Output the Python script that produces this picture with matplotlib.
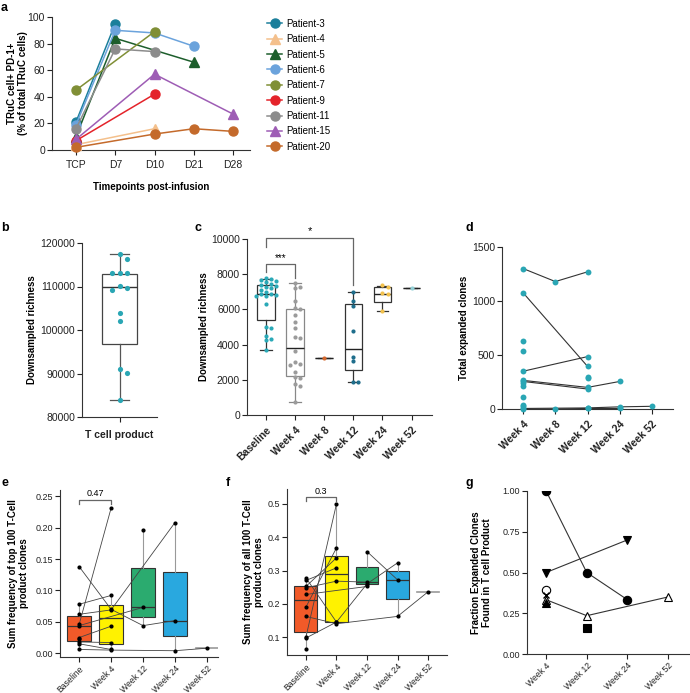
import matplotlib
matplotlib.use("Agg")
import matplotlib.pyplot as plt
import numpy as np

plt.rcParams['font.family'] = ['Liberation Sans', 'DejaVu Sans']
plt.rcParams['font.size'] = 7
plt.rcParams['axes.linewidth'] = 0.8
plt.rcParams['axes.edgecolor'] = '#333333'

# ---------------- Data ----------------
# Panel a
a_times = ["TCP", "D7", "D10", "D21", "D28"]
a_patients = ["Patient-3", "Patient-4", "Patient-5", "Patient-6", "Patient-7",
              "Patient-9", "Patient-11", "Patient-15", "Patient-20"]
a_values = {
    "Patient-3":  [21, 95, None, None, None],
    "Patient-4":  [4, None, 16, None, None],
    "Patient-5":  [10, 84, None, 66, None],
    "Patient-6":  [19, 90, 88, 78, None],
    "Patient-7":  [45, None, 89, None, None],
    "Patient-9":  [7, None, 42, None, None],
    "Patient-11": [16, 76, 74, None, None],
    "Patient-15": [8, None, 57, None, 27],
    "Patient-20": [2, None, 12, 16, 14],
}
a_colors = ["#1b7f9b", "#f4c08c", "#1d5e2c", "#6ba3dc", "#808f36",
            "#e4232a", "#8c8c8c", "#9e5db5", "#c46a2b"]
a_markers = ["o", "^", "^", "o", "o", "o", "o", "^", "o"]

# Panel b
b_points = [117400, 116300, 113000, 113000, 113000, 110100, 109700, 109300,
            104000, 102000, 91000, 90200, 84000]
b_box = dict(whislo=84000, q1=96700, med=109800, q3=112900, whishi=117400)

# Panel c
c_groups = ["Baseline", "Week 4", "Week 8", "Week 12", "Week 24", "Week 52"]
c_baseline = [7800, 7720, 7650, 7600, 7550, 7450, 7400, 7350, 7300, 7200, 7100,
              7000, 6900, 6850, 6800, 6780, 6750, 6300, 5000, 4950, 4500,
              4300, 4250, 3700]
c_week4 = [7500, 7300, 7200, 6500, 6100, 6000, 5700, 5300, 4950, 4450, 4350,
           3650, 3000, 2900, 2850, 2450, 2150, 2100, 1750, 1650, 750]
c_week8 = [3250]
c_week12 = [7000, 6500, 6200, 4800, 3300, 3050, 1900, 1900]
c_week24 = [7400, 7250, 6950, 6850, 5900]
c_week52 = [7200]
c_box_q1 = [5380, 2200, 3250, 2550, 6400, 7200]
c_box_med = [6850, 3800, 3250, 3750, 6900, 7200]
c_box_q3 = [7380, 6050, 3250, 6300, 7250, 7200]
c_box_lo = [3700, 750, 3250, 1900, 5900, 7200]
c_box_hi = [7750, 7500, 3250, 7000, 7350, 7200]
c_colors = ["#2aa9b7", "#9b9b9b", "#d5682e", "#1f6e8c", "#f2c14e", "#93d0d6"]

# Panel d
d_groups = ["Week 4", "Week 8", "Week 12", "Week 24", "Week 52"]
d_lines = [
    [1300, 1180, 1270, None, None],
    [1075, None, 395, None, None],
    [350, None, 485, None, None],
    [265, None, 200, 255, None],
    [255, None, 185, None, None],
    [5, None, 10, 20, 25],
    [0, 0, 5, 5, None],
]
d_single = [
    [630, 535, 240, 215, 115, 40, 30],
    [],
    [300, 285],
    [],
    [],
]

# Panel e
e_groups = ["Baseline", "Week 4", "Week 12", "Week 24", "Week 52"]
e_q1 = [0.020, 0.014, 0.058, 0.028, 0.008]
e_med = [0.043, 0.056, 0.073, 0.052, 0.008]
e_q3 = [0.059, 0.077, 0.135, 0.130, 0.008]
e_lo = [0.006, 0.005, 0.044, 0.004, 0.008]
e_hi = [0.078, 0.092, 0.196, 0.208, 0.008]
e_lines = [
    [0.138, 0.070, 0.044, 0.052, None],
    [0.046, 0.231, None, None, None],
    [0.062, 0.069, None, 0.208, None],
    [0.078, 0.092, None, None, None],
    [0.025, 0.043, None, None, None],
    [0.018, 0.017, None, None, None],
    [0.006, 0.005, None, 0.004, 0.008],
    [0.044, None, 0.073, None, None],
    [0.022, None, None, None, None],
    [0.015, 0.006, None, None, None],
    [None, None, 0.196, None, None],
]
e_colors = ["#f15a29", "#fff200", "#2bab6f", "#29a8df", "#aaaaaa"]

# Panel f
f_q1 = [0.115, 0.145, 0.258, 0.215, 0.236]
f_med = [0.210, 0.290, 0.265, 0.270, 0.236]
f_q3 = [0.253, 0.345, 0.310, 0.298, 0.236]
f_lo = [0.065, 0.140, 0.252, 0.162, 0.236]
f_hi = [0.278, 0.500, 0.357, 0.323, 0.236]
f_lines = [
    [0.100, 0.500, None, None, None],
    [0.270, 0.308, None, None, None],
    [0.252, 0.338, None, None, None],
    [0.248, 0.268, 0.265, None, None],
    [0.278, 0.145, None, None, None],
    [0.228, None, 0.252, None, None],
    [0.162, 0.140, None, 0.162, 0.236],
    [0.097, 0.145, 0.260, 0.323, None],
    [0.190, 0.368, None, None, None],
    [0.065, None, None, None, None],
    [None, None, 0.357, 0.272, None],
]

# Panel g
g_groups = ["Week 4", "Week 12", "Week 24", "Week 52"]
g_series = [
    ([1.00, 0.50, 0.333, None], "o", "black"),
    ([0.50, None, 0.70, None], "v", "black"),
    ([0.39, None, None, None], "o", "white"),
    ([0.333, 0.235, None, 0.35], "^", "white"),
    ([0.36, None, None, None], "x", "black"),
    ([0.31, None, None, None], "^", "black"),
    ([None, 0.16, None, None], "s", "black"),
]

# ---------------- Helpers ----------------
W, H = 690, 693
fig = plt.figure(figsize=(6.9, 6.93), dpi=100)


def add_ax(x0, y0, x1, y1, ls=7.5):
    ax = fig.add_axes([x0 / W, 1 - y1 / H, (x1 - x0) / W, (y1 - y0) / H])
    ax.spines['top'].set_visible(False)
    ax.spines['right'].set_visible(False)
    ax.tick_params(length=3.5, width=0.8, labelsize=ls, colors='#222222')
    ax.tick_params(axis='y', pad=1.5)
    ax._px = (x0, x1)
    return ax, (x1 - x0), (y1 - y0)


def ylabel_at(ax, text, right_px, fs=7):
    ax.set_ylabel(text, fontweight='bold', fontsize=fs, linespacing=1.1)
    x0, x1 = ax._px
    ax.yaxis.set_label_coords((right_px - x0) / (x1 - x0), 0.5)


def swarm(vals, wpx, hpx, xlim, ylim, d):
    ppx = wpx / (xlim[1] - xlim[0])
    ppy = hpx / (ylim[1] - ylim[0])
    placed, offs = [], []
    for v in vals:
        y = v * ppy
        cands = [0]
        for k in range(1, 12):
            cands += [k * d * 0.55, -k * d * 0.55]
        for x in cands:
            if all((x - px) ** 2 + (y - py) ** 2 >= (d * 0.95) ** 2 for px, py in placed):
                break
        placed.append((x, y))
        offs.append(x / ppx)
    return offs


def series_xy(vals):
    xs = [i for i, v in enumerate(vals) if v is not None]
    ys = [v for v in vals if v is not None]
    return xs, ys


def panel_label(x, y, s):
    fig.text(x / W, 1 - y / H, s, fontsize=9, fontweight='bold', va='top', ha='left')


# ---------------- Panel a ----------------
ax, wpx, hpx = add_ax(52, 17, 250, 150)
for p, c, m in zip(a_patients, a_colors, a_markers):
    xs, ys = series_xy(a_values[p])
    ax.plot(xs, ys, color=c, marker=m, ms=6.5 if m == 'o' else 7, lw=1.1,
            label=p, clip_on=False, zorder=3)
ax.set_xlim(-0.61, 4.43)
ax.set_ylim(0, 100)
ax.set_yticks([0, 20, 40, 60, 80, 100])
ax.set_xticks(range(len(a_times)))
ax.set_xticklabels(a_times)
ax.set_xlabel("Timepoints post-infusion", fontweight='bold', fontsize=7, labelpad=9)
ylabel_at(ax, "TRuC cell+ PD-1+\n(% of total TRuC cells)", 28, fs=7)
leg = ax.legend(loc='upper left', bbox_to_anchor=(262 / W, 1 - 14 / H),
                bbox_transform=fig.transFigure, frameon=False, fontsize=7,
                handlelength=1.6, labelspacing=0.55, handletextpad=0.4, borderpad=0)
panel_label(1, 2, "a")

# ---------------- Panel b ----------------
ax, wpx, hpx = add_ax(82, 243, 157, 417)
xl, yl = (-1, 1), (80000, 120000)
st = dict(b_box)
ax.bxp([st], positions=[0], widths=0.93, showfliers=False, patch_artist=True,
       boxprops=dict(facecolor='white', edgecolor='#444444', lw=0.9),
       medianprops=dict(color='#333333', lw=1.0),
       whiskerprops=dict(color='#555555', lw=0.9),
       capprops=dict(color='#555555', lw=0.9), capwidths=0.5)
offs = swarm(b_points, wpx, hpx, xl, yl, 7)
ax.scatter(offs, b_points, s=14, color="#2aa6b4", zorder=3, linewidths=0)
ax.set_xlim(*xl)
ax.set_ylim(*yl)
ax.set_yticks([80000, 90000, 100000, 110000, 120000])
ax.set_xticks([0])
ax.set_xticklabels(["T cell product"], fontweight='bold')
ax.tick_params(axis='x', pad=6)
ylabel_at(ax, "Downsampled richness", 37)
panel_label(1, 222, "b")

# ---------------- Panel c ----------------
ax, wpx, hpx = add_ax(247, 239, 432, 415)
xl, yl = (-0.65, 5.7), (0, 10000)
stats = []
for i in range(len(c_groups)):
    stats.append(dict(whislo=c_box_lo[i], q1=c_box_q1[i], med=c_box_med[i],
                      q3=c_box_q3[i], whishi=c_box_hi[i]))
edgecols = ['#333333', '#888888', '#888888', '#333333', '#333333', '#888888']
for i, s in enumerate(stats):
    ax.bxp([s], positions=[i], widths=0.6, showfliers=False, patch_artist=True,
           boxprops=dict(facecolor='none', edgecolor=edgecols[i], lw=0.9),
           medianprops=dict(color='#222222', lw=1.0),
           whiskerprops=dict(color=edgecols[i], lw=0.9),
           capprops=dict(color=edgecols[i], lw=0.9), capwidths=0.4)
c_all = [c_baseline, c_week4, c_week8, c_week12, c_week24, c_week52]
for i, (vals, col) in enumerate(zip(c_all, c_colors)):
    offs = swarm(vals, wpx, hpx, xl, yl, 4.6)
    ax.scatter(np.array(offs) + i, vals, s=9, color=col, zorder=3, linewidths=0)
ax.set_xlim(*xl)
ax.set_ylim(*yl)
ax.set_yticks([0, 2000, 4000, 6000, 8000, 10000])
ax.set_xticks(range(len(c_groups)))
ax.set_xticklabels(c_groups, rotation=45, ha='right', rotation_mode='anchor',
                   fontweight='bold')
ylabel_at(ax, "Downsampled richness", 209)
# significance brackets
ax.plot([0, 0, 1, 1], [8150, 8600, 8600, 7800], color='#666666', lw=0.9, clip_on=False)
ax.text(0.5, 8650, "***", ha='center', va='bottom', fontsize=7)
ax.plot([0, 0, 3, 3], [9550, 10050, 10050, 7400], color='#666666', lw=0.9, clip_on=False)
ax.text(1.5, 10150, "*", ha='center', va='bottom', fontsize=8, clip_on=False)
panel_label(195, 222, "c")

# ---------------- Panel d ----------------
ax, wpx, hpx = add_ax(502, 247, 673, 409)
for ln in d_lines:
    xs, ys = series_xy(ln)
    ax.plot(xs, ys, color='#333333', lw=0.8, zorder=2, clip_on=False)
    ax.scatter(xs, ys, s=18, color="#2aa6b4", zorder=3, linewidths=0, clip_on=False)
for i, vals in enumerate(d_single):
    if vals:
        ax.scatter([i] * len(vals), vals, s=18, color="#2aa6b4", zorder=3,
                   linewidths=0, clip_on=False)
ax.set_xlim(-0.66, 4.66)
ax.set_ylim(0, 1500)
ax.set_yticks([0, 500, 1000, 1500])
ax.set_xticks(range(len(d_groups)))
ax.set_xticklabels(d_groups, rotation=45, ha='right', rotation_mode='anchor',
                   fontweight='bold')
ylabel_at(ax, "Total expanded clones", 469)
panel_label(465, 222, "d")


# ---------------- Panels e & f ----------------
def box_panel(ax, q1, med, q3, lo, hi, lines, xl, yl):
    for i in range(len(q1)):
        s = dict(whislo=lo[i], q1=q1[i], med=med[i], q3=q3[i], whishi=hi[i])
        if i == len(q1) - 1:
            ax.plot([i - 0.35, i + 0.35], [med[i], med[i]], color='#999999', lw=1.2, zorder=1)
            continue
        ax.bxp([s], positions=[i], widths=0.75, showfliers=False, showcaps=False,
               patch_artist=True,
               boxprops=dict(facecolor=e_colors[i], edgecolor='#333333', lw=0.8),
               medianprops=dict(color='#333333', lw=0.9),
               whiskerprops=dict(color='#999999', lw=0.8))
    for ln in lines:
        xs, ys = series_xy(ln)
        ax.plot(xs, ys, color='#444444', lw=0.6, zorder=4)
        ax.scatter(xs, ys, s=9, color='black', zorder=5, linewidths=0)
    ax.set_xlim(*xl)
    ax.set_ylim(*yl)
    ax.set_xticks(range(len(e_groups)))
    ax.set_xticklabels(e_groups, rotation=45, ha='right', rotation_mode='anchor',
                       fontsize=6.2)
    ax.tick_params(axis='x', pad=1.5)


ax, wpx, hpx = add_ax(60, 490, 218, 657, ls=6.5)
box_panel(ax, e_q1, e_med, e_q3, e_lo, e_hi, e_lines, (-0.6, 4.35), (-0.006, 0.26))
ax.set_yticks([0.00, 0.05, 0.10, 0.15, 0.20, 0.25])
ax.set_yticklabels(["0.00", "0.05", "0.10", "0.15", "0.20", "0.25"])
ax.plot([0, 0, 1, 1], [0.238, 0.244, 0.244, 0.238], color='#666666', lw=0.9, clip_on=False)
ax.text(0.5, 0.247, "0.47", ha='center', va='bottom', fontsize=6.5)
ylabel_at(ax, "Sum frequency of top 100 T-Cell\nproduct clones", 29)
panel_label(1, 477, "e")

ax, wpx, hpx = add_ax(287, 489, 447, 655, ls=6.5)
box_panel(ax, f_q1, f_med, f_q3, f_lo, f_hi, f_lines, (-0.62, 4.62), (0.046, 0.545))
ax.set_yticks([0.1, 0.2, 0.3, 0.4, 0.5])
ax.plot([0, 0, 1, 1], [0.51, 0.52, 0.52, 0.51], color='#666666', lw=0.9, clip_on=False)
ax.text(0.5, 0.525, "0.3", ha='center', va='bottom', fontsize=6.5)
ylabel_at(ax, "Sum frequency of all 100 T-Cell\nproduct clones", 264)
panel_label(226, 477, "f")

# ---------------- Panel g ----------------
ax, wpx, hpx = add_ax(527, 491, 690, 654, ls=6.5)
for vals, m, fc in g_series:
    xs, ys = series_xy(vals)
    ax.plot(xs, ys, color='#333333', lw=0.8, zorder=2)
    if m == 'x':
        ax.plot(xs, ys, ls='none', marker='x', ms=5, mew=1.0, color='black', zorder=3)
    else:
        ax.plot(xs, ys, ls='none', marker=m, ms=6, mfc=fc, mec='black', mew=0.8, zorder=3)
ax.set_xlim(-0.47, 3.54)
ax.set_ylim(0, 1.0)
ax.set_yticks([0, 0.25, 0.5, 0.75, 1.0])
ax.set_yticklabels(["0.00", "0.25", "0.50", "0.75", "1.00"])
ax.set_xticks(range(len(g_groups)))
ax.set_xticklabels(g_groups, rotation=45, ha='right', rotation_mode='anchor', fontsize=6.2)
ax.tick_params(axis='x', pad=1.5)
ylabel_at(ax, "Fraction Expanded Clones\nFound in T cell Product", 492)
panel_label(465, 477, "g")

fig.savefig("out.png", dpi=100)
